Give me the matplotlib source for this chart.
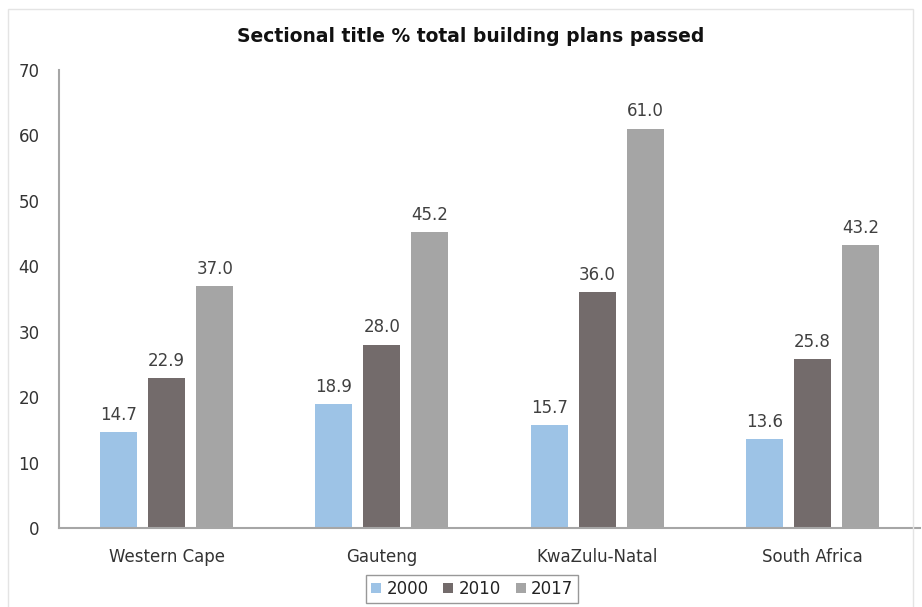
import matplotlib.pyplot as plt
import numpy as np
from matplotlib.patches import Rectangle

regions = ['Western Cape', 'Gauteng', 'KwaZulu-Natal', 'South Africa']
years = ['2000', '2010', '2017']
v2000 = [14.7, 18.9, 15.7, 13.6]
v2010 = [22.9, 28.0, 36.0, 25.8]
v2017 = [37.0, 45.2, 61.0, 43.2]
colors = ['#9dc3e6', '#736b6b', '#a5a5a5']

plt.rcParams['font.family'] = ['DejaVu Sans']

fig = plt.figure(figsize=(9.22, 6.07), dpi=100)
ax = fig.add_axes([0.064, 0.130, 0.934, 0.755])

x = np.arange(len(regions))
width = 0.172
step = 0.223
for i, (vals, lab) in enumerate(zip([v2000, v2010, v2017], years)):
    bars = ax.bar(x + (i - 1) * step, vals, width, color=colors[i], label=lab)
    ax.bar_label(bars, labels=['%.1f' % v for v in vals], padding=6,
                 fontsize=12, color='#404040')

ax.set_xlim(-0.5, len(regions) - 0.5)
ax.set_ylim(0, 70)
ax.set_yticks(range(0, 71, 10))
ax.set_xticks(x)
ax.set_xticklabels(regions)
ax.tick_params(axis='both', length=0, labelsize=12, labelcolor='#333333')
ax.tick_params(axis='y', pad=14)
ax.tick_params(axis='x', pad=14)
for s in ['top', 'right']:
    ax.spines[s].set_visible(False)
for s in ['left', 'bottom']:
    ax.spines[s].set_color('#a6a6a6')
    ax.spines[s].set_linewidth(1.5)

fig.text(0.511, 0.94, 'Sectional title % total building plans passed',
         ha='center', va='center', fontsize=13.5, fontweight='bold', color='#111111')

leg = fig.legend(loc='center', bbox_to_anchor=(0.512, 0.03), ncol=3,
                 frameon=True, fancybox=False, fontsize=12,
                 handlelength=0.6, handleheight=0.6, handletextpad=0.3,
                 columnspacing=0.9, borderpad=0.3)
leg.get_frame().set_edgecolor('#7f7f7f')
leg.get_frame().set_linewidth(1.0)
for t in leg.get_texts():
    t.set_color('#222222')

# faint outer chart frame
fig.patches.append(Rectangle((8 / 922, -0.01), 0.99 - 8 / 922, 1 - 9 / 607 + 0.01,
                             transform=fig.transFigure, fill=False,
                             edgecolor='#e4e4e4', linewidth=1.0))

fig.savefig('out.png', dpi=100)
